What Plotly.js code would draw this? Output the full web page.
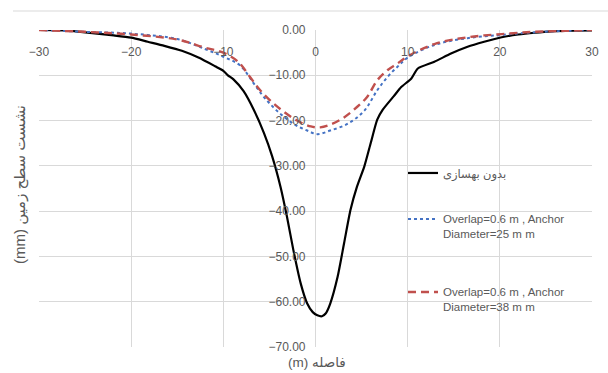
<!DOCTYPE html>
<html>
<head>
<meta charset="utf-8">
<script src="https://cdn.plot.ly/plotly-3.0.1.min.js"></script>
<style>html,body{margin:0;padding:0;background:#fff}#chart{width:608px;height:373px}</style>
</head>
<body>
<div id="chart"></div>
<script>
// Data
const seriesNames = ["بدون بهسازی", "Overlap=0.6 m , Anchor<br>Diameter=25 m m", "Overlap=0.6 m , Anchor<br>Diameter=38 m m"];

const xNone = [-30,-27,-25.5,-21.9,-20,-18.2,-16.4,-14.5,-12.7,-10.9,-10,-9.5,-8.9,-7.8,-6.7,-5.6,-4.7,-3.8,-3.1,-2.4,-1.6,-0.9,-0.3,0.2,0.7,1.1,1.6,2.4,3.1,3.8,4.5,5.3,6.0,6.7,7.3,8.5,9.3,10.4,11.1,12.9,14.7,16.5,18.3,20.2,22,23.8,25.6,28,30];
const yNone = [0,-0.1,-0.4,-1.2,-1.7,-2.6,-3.5,-4.6,-6.1,-8.0,-9.0,-10.0,-10.9,-13.5,-17.6,-22.7,-27.9,-34.6,-41.2,-48.6,-56.0,-60.4,-62.3,-63.0,-63.2,-62.6,-60.4,-54.5,-47.1,-39.7,-34.6,-30.1,-24.9,-19.8,-17.6,-14.6,-12.6,-10.7,-8.5,-7.0,-5.2,-3.7,-2.6,-1.6,-1.0,-0.6,-0.3,-0.15,-0.1];

const xD25 = [-30,-25,-20,-15,-12,-10,-8.2,-6.7,-5.6,-4.2,-2.4,-0.9,0.2,1.6,3.5,5.3,6.7,7.8,8.9,10,12.9,16.5,20.2,23.8,27,30];
const yD25 = [0,-0.4,-0.8,-2.0,-4.2,-5.9,-7.8,-11.8,-14.8,-17.8,-20.7,-22.2,-23.0,-22.2,-20.7,-17.8,-13.3,-10.4,-8.1,-6.1,-3.3,-1.8,-1.1,-0.5,-0.2,0];

const xD38 = [-30,-25,-20,-15,-12,-10,-8.4,-7.1,-6.0,-4.9,-3.6,-2.0,-0.5,0.5,1.6,3.1,4.5,5.6,6.7,7.8,8.9,10,12.9,16.5,20.2,23.8,27,30];
const yD38 = [0,-0.4,-1.0,-2.1,-3.9,-5.0,-7.0,-10.4,-13.3,-15.6,-17.8,-20.0,-21.3,-21.5,-20.9,-19.3,-17.0,-14.8,-11.1,-8.9,-7.4,-5.8,-3.1,-1.6,-0.9,-0.4,-0.2,0];

const xTitle = "(m) فاصله";
const yTitle = "(mm) نشست سطح زمین";

const fontFam = "Liberation Sans, DejaVu Sans, sans-serif";
const gray = "#595959";
const grid = "#d9d9d9";

const traces = [
  {x: xNone, y: yNone, name: seriesNames[0], mode: "lines", line: {color: "#000000", width: 2.2, shape: "spline", smoothing: 0.6}, legend: "legend"},
  {x: xD25, y: yD25, name: seriesNames[1], mode: "lines", line: {color: "#4472c4", width: 2, dash: "dot", shape: "spline"}, legend: "legend2"},
  {x: xD38, y: yD38, name: seriesNames[2], mode: "lines", line: {color: "#c0504d", width: 2.4, dash: "8px,5px", shape: "spline"}, legend: "legend3"}
];

const legendBase = {xanchor: "left", yanchor: "top", bgcolor: "rgba(0,0,0,0)", font: {family: fontFam, size: 11.5, color: gray}, valign: "top"};

const layout = {
  width: 608, height: 373,
  margin: {l: 39, r: 16, t: 30, b: 26},
  paper_bgcolor: "#fff", plot_bgcolor: "#fff",
  showlegend: true,
  xaxis: {
    range: [-30, 30], dtick: 10, tick0: 0,
    anchor: "free", position: 1, side: "bottom",
    showgrid: true, gridcolor: grid, gridwidth: 1,
    zeroline: false, showline: false, ticks: "",
    ticklabelstandoff: 13,
    tickfont: {family: fontFam, size: 12, color: gray}
  },
  yaxis: {
    range: [-70, 0], dtick: 10, tick0: 0, tickformat: ".2f",
    anchor: "free", position: 0.5, side: "left",
    showgrid: true, gridcolor: grid, gridwidth: 1,
    zeroline: false, showline: false, ticks: "",
    ticklabelstandoff: 10,
    tickfont: {family: fontFam, size: 12, color: gray}
  },
  legend: Object.assign({}, legendBase, {x: (403-39)/553, y: (347-159)/317}),
  legend2: Object.assign({}, legendBase, {x: (403-39)/553, y: (347-205)/317}),
  legend3: Object.assign({}, legendBase, {x: (403-39)/553, y: (347-278)/317}),
  annotations: [
    {text: xTitle, xref: "paper", yref: "paper", x: (317-39)/553, y: (347-363)/317, showarrow: false, xanchor: "center", yanchor: "middle", font: {family: fontFam, size: 13.5, color: gray}},
    {text: yTitle, xref: "paper", yref: "paper", x: (20-39)/553, y: (347-185)/317, showarrow: false, textangle: -90, xanchor: "center", yanchor: "middle", font: {family: fontFam, size: 15, color: gray}}
  ],
  shapes: [
    {type: "line", xref: "paper", yref: "paper", x0: (13-39)/553, x1: (608-39)/553, y0: (347-11)/317, y1: (347-11)/317, line: {color: grid, width: 1}}
  ]
};

Plotly.newPlot("chart", traces, layout, {staticPlot: true, displayModeBar: false});
</script>
</body>
</html>
